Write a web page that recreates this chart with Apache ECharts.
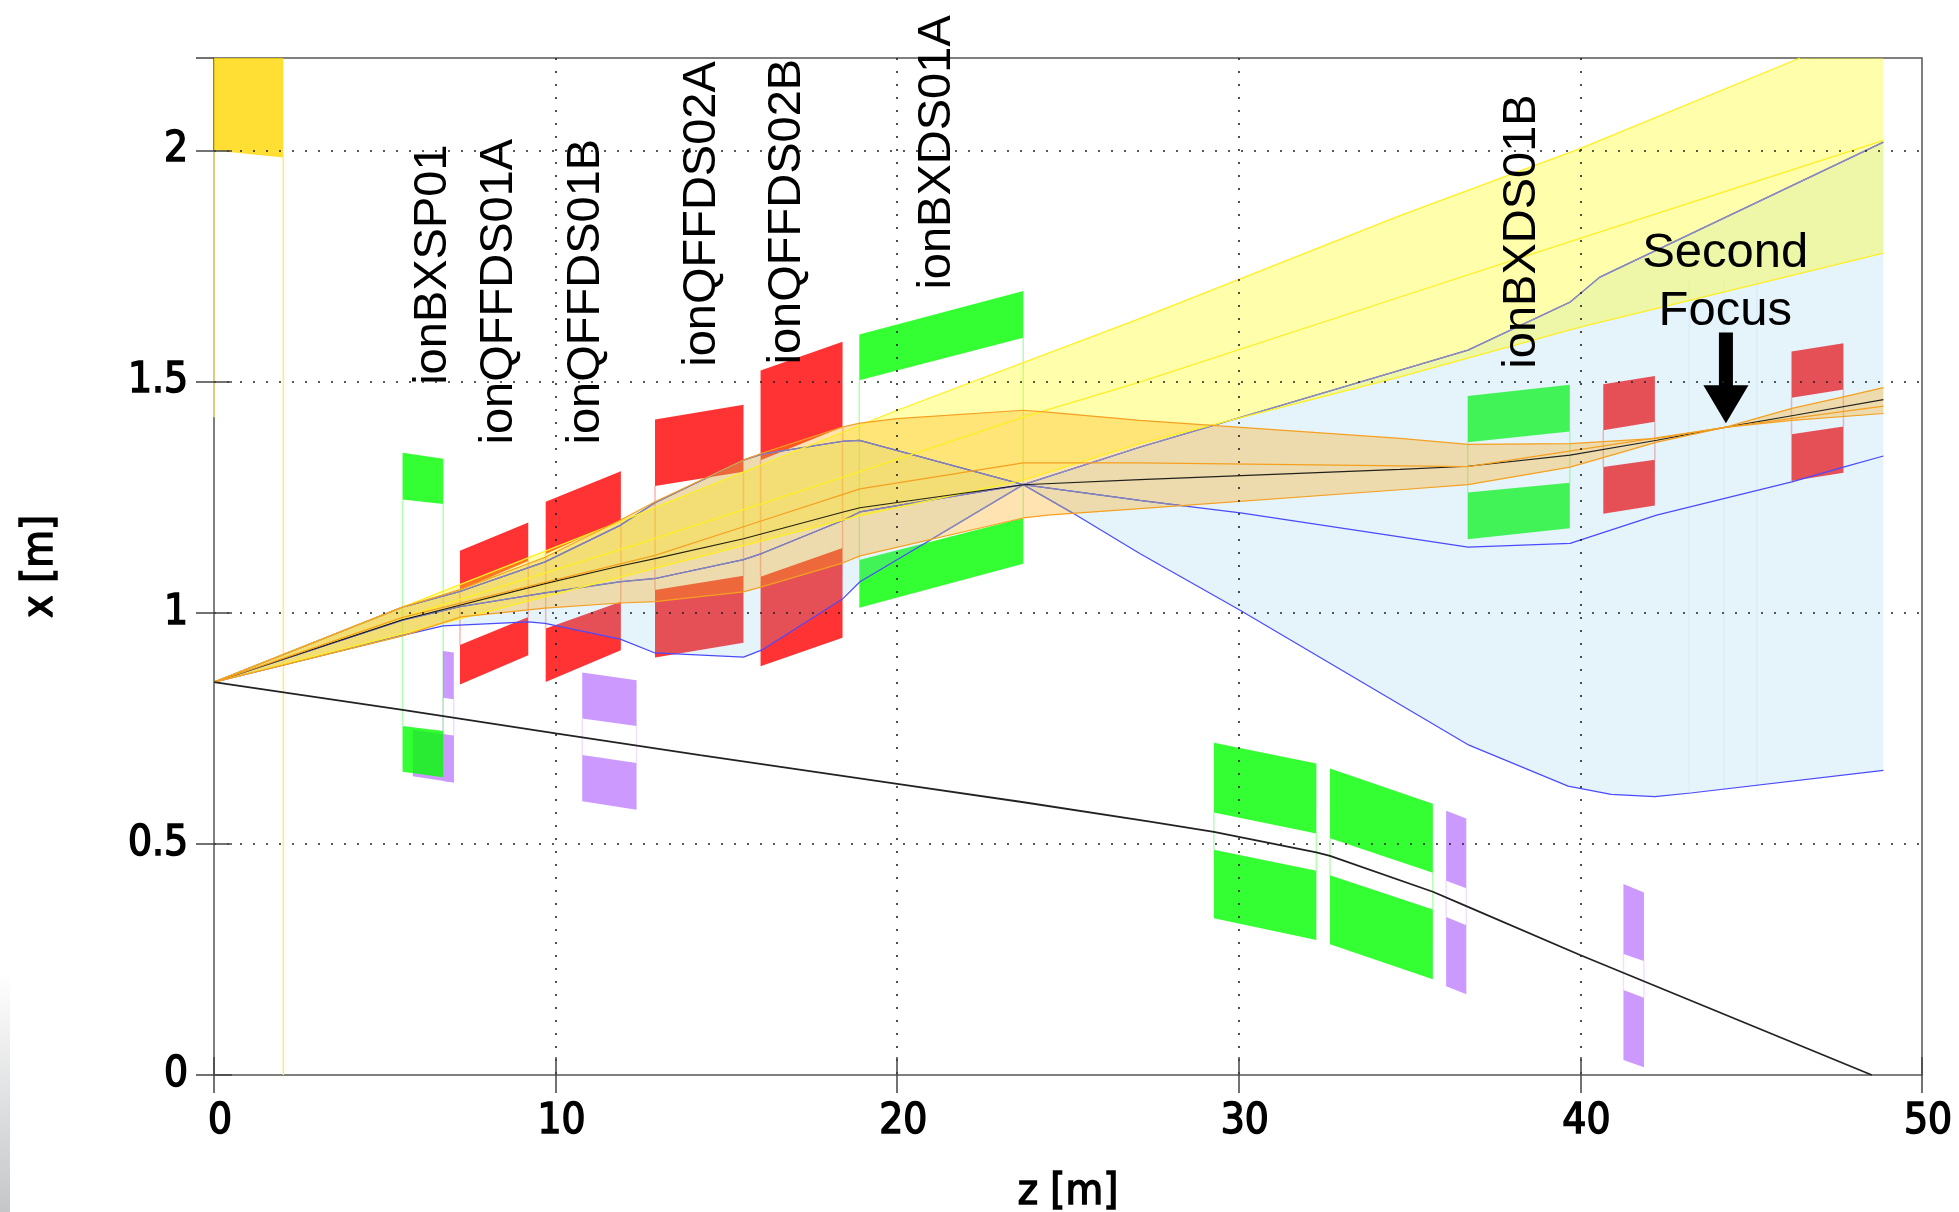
<!DOCTYPE html>
<html>
<head>
<meta charset="utf-8">
<script src="https://cdn.jsdelivr.net/npm/echarts@6/dist/echarts.min.js"></script>
<style>html,body{margin:0;padding:0;background:#fff}#c{width:1959px;height:1212px;filter:blur(0.5px)}</style>
</head>
<body>
<div id="c"></div>
<script>
// Rays: [z, x]
const blueRayA = [[0,0.85],[5.52,1.012],[7.2,1.046],[9.69,1.11],[11.89,1.189],[12.91,1.238],[15.5,1.33],[16.03,1.343],[18.42,1.371],[18.9,1.373],[23.69,1.277],[25.15,1.215],[27.1,1.128],[30.05,1.005],[36.74,0.7135],[39.64,0.625],[40.9,0.607],[42.18,0.602],[43.23,0.61],[48.87,0.659]];
const blueRayB = [[0,0.85],[5.52,0.951],[6.71,0.9715],[9.2,0.98],[9.69,0.977],[11.89,0.943],[12.91,0.913],[15.5,0.904],[16.03,0.919],[18.42,1.031],[18.91,1.067],[20.96,1.157],[23.69,1.277],[27.1,1.358],[36.71,1.568],[39.7,1.672],[40.57,1.726],[48.87,2.018]];
const blueRayC = [[0,0.85],[5.52,0.984],[7.2,1.013],[9.69,1.043],[11.89,1.067],[12.91,1.074],[15.5,1.115],[16.03,1.128],[18.42,1.2],[18.91,1.218],[23.69,1.277],[27.1,1.243],[28.5,1.23],[30.05,1.216],[36.71,1.142],[39.7,1.15],[42.23,1.211],[46.19,1.283],[47.7,1.315],[48.87,1.339]];
const yellowTop = [[0,0.85],[5.52,1.012],[11.89,1.197],[20,1.438],[27.1,1.636],[34.72,1.859],[39.99,2.004],[46.43,2.2]];
const yellowTopEdge = [[46.43,2.2],[48.87,2.2]];
const yellowMid = [[0,0.85],[5.52,0.99],[12.47,1.15],[18.91,1.305],[23.69,1.423],[27.1,1.499],[34.72,1.683],[39.99,1.81],[48.87,2.022]];
const yellowLow = [[0,0.85],[5.52,0.955],[12.47,1.088],[18.91,1.21],[23.69,1.287],[27.1,1.366],[34.72,1.51],[39.99,1.618],[48.87,1.778]];
const orangeTop = [[0,0.85],[5.52,1.012],[7.2,1.05],[9.69,1.12],[11.89,1.2],[12.91,1.24],[15.5,1.33],[16.03,1.345],[18.42,1.402],[18.91,1.41],[20,1.42],[23.69,1.438],[24.4,1.434],[27.1,1.416],[34.72,1.377],[36.71,1.364],[39.7,1.366],[42.24,1.377],[44.23,1.401],[46.19,1.442],[47.7,1.467],[48.87,1.487]];
const orangeMid = [[0,0.85],[5.52,0.99],[12.91,1.124],[15.5,1.186],[18.91,1.268],[23.69,1.324],[27.1,1.324],[36.71,1.316],[44.23,1.401],[48.87,1.447]];
const orangeLow = [[0,0.85],[5.52,0.95],[7.23,0.991],[9.69,1.01],[11.89,1.021],[12.91,1.024],[15.5,1.045],[16.03,1.056],[18.42,1.108],[18.91,1.123],[23.69,1.205],[24.4,1.211],[27.1,1.225],[34.72,1.266],[36.71,1.277],[39.7,1.315],[42.24,1.369],[44.23,1.401],[46.19,1.416],[48.87,1.431]];
const centreRay = [[0,0.85],[5.52,0.985],[9.69,1.063],[11.89,1.101],[12.91,1.117],[15.5,1.16],[18.42,1.218],[18.91,1.227],[23.69,1.277],[27.1,1.288],[34.72,1.31],[36.71,1.317],[39.7,1.341],[42.24,1.373],[44.23,1.401],[46.19,1.426],[48.87,1.461]];
const blackRay = [[0,0.85],[5.52,0.79],[10,0.739],[14.23,0.692],[20,0.63],[23.7,0.59],[27.4,0.548],[29.27,0.526],[32.27,0.4815],[32.67,0.474],[35.68,0.3964],[36.66,0.3654],[39.99,0.2595],[48.53,0]];

// Magnets: z0, z1, upper block (tl, tr, br, bl), lower block (tl, tr, br, bl)
const purpleMagnets = [
  [6.70,7.02, 0.917,0.914,0.813,0.816, 0.737,0.734,0.633,0.636],
  [10.78,12.37, 0.8706,0.854,0.755,0.771, 0.692,0.675,0.574,0.592],
  [36.07,36.66, 0.5716,0.555,0.404,0.42, 0.342,0.324,0.1745,0.192],
  [41.26,41.86, 0.413,0.395,0.2465,0.2616, 0.184,0.167,0.0166,0.0324]
];
const purpleLowerBlock = [[5.82,0.747],[7.02,0.734],[7.02,0.633],[5.82,0.646]];
const redMagnets = [
  [7.2,9.2, 1.134,1.195,1.112,1.049, 0.93,0.991,0.908,0.845],
  [9.71,11.91, 1.24,1.306,1.2,1.127, 0.966,1.024,0.919,0.85],
  [12.91,15.5, 1.418,1.45,1.305,1.274, 1.049,1.08,0.935,0.903],
  [16.0,18.4, 1.524,1.586,1.402,1.33, 1.078,1.14,0.946,0.884],
  [40.67,42.18, 1.494,1.512,1.413,1.395, 1.315,1.331,1.232,1.214],
  [46.18,47.7, 1.565,1.583,1.483,1.465, 1.386,1.403,1.303,1.285]
];
const greenMagnets = [
  [5.52,6.71, 1.346,1.333,1.235,1.245, 0.755,0.744,0.644,0.656],
  [18.89,23.69, 1.602,1.696,1.595,1.503, 1.114,1.205,1.106,1.011],
  [29.27,32.27, 0.7186,0.674,0.5226,0.568, 0.487,0.442,0.292,0.339],
  [32.67,35.68, 0.663,0.587,0.4375,0.512, 0.432,0.358,0.207,0.283],
  [36.7,39.69, 1.469,1.493,1.392,1.369, 1.26,1.281,1.183,1.159]
];
const apertureBox = [[0,2.2],[2.03,2.2],[2.03,1.985],[0,2.0]];
const apertureEdges = [[[2.03,1.985],[2.03,0]],[[0,2.0],[0,1.423]]];
const seamZ = [43.18,44.2,45.17];
const seamX = [0.61,1.72];

// Annotations
const elementNames = ['ionBXSP01','ionQFFDS01A','ionQFFDS01B','ionQFFDS02A','ionQFFDS02B','ionBXDS01A','ionBXDS01B'];
const elementNameZ = [6.4,8.34,10.89,14.28,16.79,21.17,38.3];
const elementNameX = [1.493,1.364,1.364,1.532,1.537,1.699,1.528];
const focusText = [['Second',44.24,1.778],['Focus',44.24,1.652]];
const focusArrow = [[44.055,1.606],[44.465,1.606],[44.465,1.492],[44.92,1.492],[44.26,1.41],[43.6,1.492],[44.055,1.492]];

const bandFocusZ = 23.69;
const blueUpper = blueRayA.filter(p=>p[0]<=bandFocusZ).concat(blueRayB.filter(p=>p[0]>bandFocusZ));
const blueLower = blueRayB.filter(p=>p[0]<=bandFocusZ).concat(blueRayA.filter(p=>p[0]>bandFocusZ));
const yellowUpper = yellowTop.concat(yellowTopEdge);
// stretches of the blue rays that run underneath the yellow and orange bands
const greyRayA = blueRayA.filter(p=>p[0]<=25.15);
const greyRayB = blueRayB.filter(p=>p[0]>=20.96);
const greyRayBEarly = blueRayB.filter(p=>p[0]<=5.52);
const greyRayC = blueRayC.filter(p=>p[0]<=28.5);

const pts = (api,a)=>a.map(p=>api.coord(p));
function bandSeries(upper,lower,fill){
  return {type:'custom',silent:true,data:[[0,0]],renderItem(params,api){
    return {type:'polygon',shape:{points:pts(api,upper.concat(lower.slice().reverse()))},style:{fill:fill}};
  }};
}
function lineSeries(data,color,width,opacity){
  return {type:'line',data:data,showSymbol:false,silent:true,lineStyle:{color:color,width:width,opacity:opacity==null?1:opacity},itemStyle:{color:color},animation:false};
}
function magnetSeries(rows,fill,edge){
  return {type:'custom',silent:true,data:rows,encode:{x:[0,1],y:[2]},renderItem(params,api){
    const r=rows[params.dataIndex],z0=r[0],z1=r[1];
    const up=[[z0,r[2]],[z1,r[3]],[z1,r[4]],[z0,r[5]]],lo=[[z0,r[6]],[z1,r[7]],[z1,r[8]],[z0,r[9]]];
    return {type:'group',children:[
      {type:'polyline',shape:{points:pts(api,[[z0,r[5]],[z0,r[6]]])},style:{stroke:edge,lineWidth:1.5,fill:null}},
      {type:'polyline',shape:{points:pts(api,[[z1,r[4]],[z1,r[7]]])},style:{stroke:edge,lineWidth:1.5,fill:null}},
      {type:'polygon',shape:{points:pts(api,up)},style:{fill:fill}},
      {type:'polygon',shape:{points:pts(api,lo)},style:{fill:fill}}
    ]};
  }};
}

const axisFont = 'DejaVu Sans Condensed, DejaVu Sans, sans-serif';
const labelStyle = {fontFamily:axisFont,fontSize:42,color:'#000',textBorderColor:'#000',textBorderWidth:1.5};
const nameStyle = {fontFamily:axisFont,fontSize:43,color:'#000',textBorderColor:'#000',textBorderWidth:1.5};
const frameTick = {show:true,inside:true,length:18,lineStyle:{color:'#444',width:1.5}};

const chart = echarts.init(document.getElementById('c'),null,{renderer:'canvas'});
chart.setOption({
  animation:false,
  backgroundColor:'#fff',
  graphic:[{type:'rect',left:0,top:973,shape:{width:10,height:239},silent:true,
    style:{fill:new echarts.graphic.LinearGradient(0,0,0,1,[{offset:0,color:'rgba(196,198,200,0)'},{offset:1,color:'rgba(196,198,200,1)'}])}}],
  grid:{left:214,right:37,top:58,bottom:137,outerBoundsMode:'none',show:true,borderColor:'#555',borderWidth:1.5,backgroundColor:'transparent'},
  xAxis:[
    {type:'value',min:0,max:50,interval:10,z:10,name:'z [m]',nameLocation:'middle',nameGap:96,
     nameTextStyle:nameStyle,axisLine:{show:false},axisTick:frameTick,
     axisLabel:Object.assign({margin:26,padding:[0,0,0,12]},labelStyle),
     splitLine:{show:true,showMinLine:false,showMaxLine:false,lineStyle:{color:'#222',width:1.6,type:[2,11]}}},
    {type:'value',position:'top',min:0,max:50,interval:10,z:10,axisLine:{show:false},axisTick:frameTick,axisLabel:{show:false},splitLine:{show:false}}
  ],
  yAxis:[
    {type:'value',min:0,max:2.2,interval:0.5,z:10,name:'x [m]',nameLocation:'middle',nameGap:152,nameRotate:90,
     nameTextStyle:nameStyle,axisLine:{show:false},axisTick:frameTick,
     axisLabel:Object.assign({margin:26,showMaxLabel:false,padding:[2,0,0,0]},labelStyle),
     splitLine:{show:true,showMinLine:false,showMaxLine:false,lineStyle:{color:'#222',width:1.6,type:[2,11]}}},
    {type:'value',position:'right',min:0,max:2.2,interval:0.5,z:10,axisLine:{show:false},axisTick:frameTick,axisLabel:{show:false},splitLine:{show:false}}
  ],
  series:[
    {type:'custom',silent:true,data:[[0,0]],renderItem(params,api){
      return {type:'group',children:apertureEdges.map(e=>({type:'polyline',shape:{points:pts(api,e)},style:{stroke:'#ffe680',lineWidth:1.5,fill:null}}))
        .concat([{type:'polygon',shape:{points:pts(api,apertureBox)},style:{fill:'rgba(255,215,0,0.8)'}}])};
    }},
    magnetSeries(purpleMagnets,'#cc99ff','rgba(204,153,255,0.3)'),
    bandSeries(purpleLowerBlock,[],'#cc99ff'),
    magnetSeries(redMagnets,'rgba(255,0,0,0.8)','rgba(255,0,0,0.3)'),
    magnetSeries(greenMagnets,'rgba(0,255,0,0.8)','rgba(0,255,0,0.3)'),
    bandSeries(blueUpper,blueLower,'rgba(125,195,230,0.2)'),
    {type:'custom',silent:true,data:seamZ.map(z=>[z,seamX[0]]),renderItem(params,api){
      const z=seamZ[params.dataIndex];
      return {type:'polyline',shape:{points:pts(api,[[z,seamX[0]],[z,seamX[1]]])},style:{stroke:'rgba(125,195,230,0.1)',lineWidth:1.5,fill:null}};
    }},
    lineSeries(blueRayA,'#4a4aff',1.2),
    lineSeries(blueRayB,'#4a4aff',1.2),
    lineSeries(blueRayC,'#4a4aff',1.2),
    lineSeries(greyRayA,'#8585b0',1.3),
    lineSeries(greyRayB,'#8f8fb4',1.3),
    lineSeries(greyRayBEarly,'#8585b0',1.3),
    lineSeries(greyRayC,'#8585b0',1.3),
    bandSeries(yellowUpper,yellowLow,'rgba(255,255,0,0.33)'),
    lineSeries(yellowTop,'#ffee22',1.3),
    lineSeries(yellowMid,'#ffee22',1.3),
    lineSeries(yellowLow,'#ffee22',1.3),
    lineSeries(centreRay,'#000',1.1,0.85),
    bandSeries(orangeTop,orangeLow,'rgba(255,165,0,0.3)'),
    lineSeries(orangeTop,'#f5a020',1.2),
    lineSeries(orangeMid,'#f5a020',1.2),
    lineSeries(orangeLow,'#f5a020',1.2),
    lineSeries(blackRay,'#222',1.8),
    {type:'custom',silent:true,z:5,data:elementNames.map((n,i)=>[elementNameZ[i],elementNameX[i]]),renderItem(params,api){
      const i=params.dataIndex,c=api.coord([elementNameZ[i],elementNameX[i]]);
      return {type:'text',x:c[0],y:c[1],rotation:Math.PI/2,style:{text:elementNames[i],font:'47px "Liberation Sans"',fill:'#000',align:'left',verticalAlign:'middle'}};
    }},
    {type:'custom',silent:true,z:5,data:focusText.map(t=>[t[1],t[2]]),renderItem(params,api){
      const t=focusText[params.dataIndex],c=api.coord([t[1],t[2]]);
      return {type:'text',x:c[0],y:c[1],style:{text:t[0],font:'49px "Liberation Sans"',fill:'#000',align:'center',verticalAlign:'middle'}};
    }},
    {type:'custom',silent:true,z:5,data:[[focusArrow[0][0],focusArrow[0][1]]],renderItem(params,api){
      return {type:'polygon',shape:{points:pts(api,focusArrow)},style:{fill:'#000'}};
    }}
  ]
});
</script>
</body>
</html>
